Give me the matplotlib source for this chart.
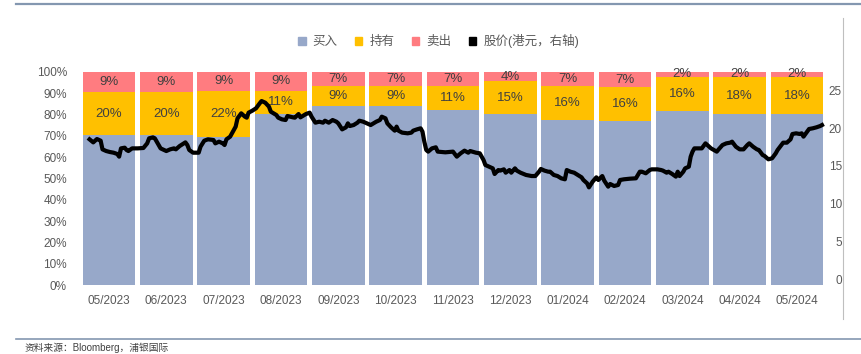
import matplotlib
matplotlib.use("Agg")
import matplotlib.pyplot as plt
from matplotlib.patches import Patch
from matplotlib.lines import Line2D
import numpy as np
import pandas as pd

plt.rcParams['font.family'] = ['Liberation Sans', 'Noto Sans CJK SC', 'DejaVu Sans']

# analyst ratings, % of analysts
months = ["05/2023", "06/2023", "07/2023", "08/2023", "09/2023", "10/2023", "11/2023",
          "12/2023", "01/2024", "02/2024", "03/2024", "04/2024", "05/2024"]
buy = [70.3, 70.3, 69.3, 80.5, 84.2, 84.2, 82.2, 80.3, 77.6, 77.1, 81.7, 80.1, 80.1]
hold = [20.3, 20.3, 21.8, 10.6, 9.2, 9.2, 11.2, 15.3, 15.8, 15.7, 16.1, 17.7, 17.7]
sell = [9.4, 9.4, 8.9, 8.9, 6.6, 6.6, 6.6, 4.4, 6.6, 7.2, 2.2, 2.2, 2.2]

# share price (HKD)
price_dates = [
    "2023-05-06", "2023-05-08", "2023-05-10", "2023-05-12", "2023-05-13", "2023-05-15",
    "2023-05-17", "2023-05-19", "2023-05-21", "2023-05-22", "2023-05-23", "2023-05-25",
    "2023-05-26", "2023-05-27", "2023-05-29", "2023-06-01", "2023-06-04", "2023-06-06",
    "2023-06-07", "2023-06-09", "2023-06-10", "2023-06-12", "2023-06-13", "2023-06-16",
    "2023-06-18", "2023-06-20", "2023-06-21", "2023-06-23", "2023-06-26", "2023-06-27",
    "2023-06-28", "2023-06-30", "2023-07-03", "2023-07-04", "2023-07-06", "2023-07-08",
    "2023-07-11", "2023-07-12", "2023-07-14", "2023-07-16", "2023-07-17", "2023-07-18",
    "2023-07-20", "2023-07-21", "2023-07-23", "2023-07-24", "2023-07-26", "2023-07-28",
    "2023-07-29", "2023-07-30", "2023-08-01", "2023-08-03", "2023-08-05", "2023-08-06",
    "2023-08-08", "2023-08-10", "2023-08-11", "2023-08-14", "2023-08-15", "2023-08-17",
    "2023-08-19", "2023-08-20", "2023-08-23", "2023-08-24", "2023-08-26", "2023-08-27",
    "2023-08-30", "2023-09-01", "2023-09-02", "2023-09-04", "2023-09-06", "2023-09-08",
    "2023-09-09", "2023-09-11", "2023-09-13", "2023-09-15", "2023-09-16", "2023-09-18",
    "2023-09-20", "2023-09-21", "2023-09-22", "2023-09-24", "2023-09-26", "2023-09-27",
    "2023-09-29", "2023-10-01", "2023-10-03", "2023-10-06", "2023-10-08", "2023-10-09",
    "2023-10-11", "2023-10-12", "2023-10-14", "2023-10-16", "2023-10-17", "2023-10-18",
    "2023-10-20", "2023-10-23", "2023-10-25", "2023-10-26", "2023-10-28", "2023-10-30",
    "2023-10-31", "2023-11-01", "2023-11-02", "2023-11-03", "2023-11-05", "2023-11-07",
    "2023-11-08", "2023-11-12", "2023-11-16", "2023-11-18", "2023-11-20", "2023-11-22",
    "2023-11-24", "2023-11-25", "2023-11-28", "2023-11-30", "2023-12-02", "2023-12-03",
    "2023-12-05", "2023-12-07", "2023-12-08", "2023-12-10", "2023-12-11", "2023-12-13",
    "2023-12-14", "2023-12-16", "2023-12-17", "2023-12-19", "2023-12-20", "2023-12-22",
    "2023-12-25", "2023-12-28", "2023-12-30", "2024-01-01", "2024-01-02", "2024-01-04",
    "2024-01-06", "2024-01-07", "2024-01-09", "2024-01-11", "2024-01-13", "2024-01-15",
    "2024-01-16", "2024-01-18", "2024-01-20", "2024-01-22", "2024-01-24", "2024-01-25",
    "2024-01-27", "2024-01-28", "2024-01-30", "2024-02-01", "2024-02-02", "2024-02-04",
    "2024-02-05", "2024-02-07", "2024-02-08", "2024-02-10", "2024-02-12", "2024-02-13",
    "2024-02-15", "2024-02-18", "2024-02-21", "2024-02-23", "2024-02-24", "2024-02-26",
    "2024-02-28", "2024-02-29", "2024-03-03", "2024-03-05", "2024-03-06", "2024-03-08",
    "2024-03-09", "2024-03-11", "2024-03-13", "2024-03-14", "2024-03-15", "2024-03-17",
    "2024-03-18", "2024-03-20", "2024-03-21", "2024-03-22", "2024-03-23", "2024-03-25",
    "2024-03-27", "2024-03-29", "2024-03-31", "2024-04-01", "2024-04-04", "2024-04-05",
    "2024-04-07", "2024-04-09", "2024-04-11", "2024-04-12", "2024-04-14", "2024-04-16",
    "2024-04-18", "2024-04-20", "2024-04-21", "2024-04-23", "2024-04-25", "2024-04-26",
    "2024-04-28", "2024-04-29", "2024-05-01", "2024-05-03", "2024-05-05", "2024-05-06",
    "2024-05-08", "2024-05-09", "2024-05-11", "2024-05-13", "2024-05-14", "2024-05-16",
    "2024-05-18", "2024-05-19", "2024-05-20", "2024-05-22", "2024-05-23", "2024-05-25",
    "2024-05-27", "2024-05-29", "2024-05-30",
]
price = [
    18.51, 18.11, 18.55, 18.33, 17.19, 16.97, 16.84, 16.75, 16.58, 16.23, 17.32, 17.41,
    17.11, 16.97, 17.32, 17.32, 17.37, 17.98, 18.64, 18.77, 18.64, 17.76, 17.32, 16.97,
    17.19, 17.32, 17.19, 17.63, 18.11, 17.76, 17.11, 16.75, 16.75, 17.54, 18.33, 18.51,
    18.42, 17.98, 18.20, 17.98, 17.76, 18.51, 18.86, 19.30, 20.18, 21.27, 21.93, 21.49,
    21.36, 22.02, 22.28, 22.59, 23.25, 23.55, 23.33, 22.81, 22.15, 21.71, 21.36, 21.14,
    21.05, 21.58, 21.40, 21.36, 21.84, 21.40, 21.84, 22.02, 21.49, 20.70, 20.83, 20.70,
    20.96, 20.70, 21.05, 20.83, 20.61, 19.82, 20.09, 20.61, 20.26, 20.39, 20.70, 20.96,
    20.83, 20.61, 20.39, 20.83, 21.05, 21.49, 21.27, 20.61, 20.09, 19.65, 20.18, 19.65,
    19.39, 19.30, 19.39, 19.65, 19.82, 19.96, 19.52, 18.20, 17.11, 16.89, 17.32, 17.46,
    16.89, 16.80, 16.89, 16.23, 16.67, 17.02, 16.75, 16.97, 16.75, 16.67, 15.79, 15.13,
    14.91, 14.69, 13.95, 14.47, 14.39, 14.56, 14.12, 14.47, 14.12, 14.69, 14.39, 14.12,
    13.82, 13.68, 13.68, 14.25, 14.61, 14.39, 14.25, 14.25, 13.82, 13.68, 13.38, 13.25,
    14.47, 14.25, 14.12, 13.82, 13.51, 13.16, 12.72, 12.19, 12.94, 13.51, 13.16, 13.68,
    13.07, 12.28, 12.63, 12.37, 12.50, 13.16, 13.25, 13.33, 13.38, 14.25, 14.25, 14.04,
    14.47, 14.56, 14.56, 14.47, 14.39, 14.12, 14.25, 13.95, 13.60, 14.25, 13.68, 14.25,
    14.69, 14.91, 16.23, 16.89, 17.32, 17.32, 17.32, 17.98, 17.54, 17.32, 16.89, 17.19,
    17.76, 17.98, 18.07, 18.20, 17.54, 17.19, 17.19, 17.76, 17.98, 17.54, 17.19, 17.11,
    16.45, 16.32, 15.88, 16.01, 16.67, 17.11, 17.76, 18.07, 18.07, 18.51, 19.21, 19.30,
    19.21, 19.30, 18.86, 19.52, 19.87, 19.96, 20.09, 20.26, 20.39,
]

C_BUY = "#97A8C9"
C_HOLD = "#FFC000"
C_SELL = "#FF7C80"
GREY = "#595959"

W, H = 862, 354
fig = plt.figure(figsize=(W / 100, H / 100), dpi=100)
ax = fig.add_axes([80.3 / W, 1 - 285 / H, 745.4 / W, 213 / H])

x = np.arange(len(months))
buy_a, hold_a, sell_a = np.array(buy), np.array(hold), np.array(sell)
ax.bar(x, buy_a, width=0.915, color=C_BUY, zorder=2)
ax.bar(x, hold_a, width=0.915, bottom=buy_a, color=C_HOLD, zorder=2)
ax.bar(x, sell_a, width=0.915, bottom=buy_a + hold_a, color=C_SELL, zorder=2)

for i in x:
    ax.text(i, buy_a[i] + hold_a[i] / 2, f"{hold_a[i]:.0f}%", ha="center", va="center",
            fontsize=9.5, color="#404040", zorder=3)
    ax.text(i, buy_a[i] + hold_a[i] + sell_a[i] / 2, f"{sell_a[i]:.0f}%", ha="center",
            va="center", fontsize=9.5, color="#404040", zorder=3)

ax.set_xlim(-0.5, len(months) - 0.5)
ax.set_ylim(0, 100)
ax.set_yticks(np.arange(0, 101, 10))
ax.set_yticklabels([f"{v}%" for v in range(0, 101, 10)])
ax.set_xticks(x)
ax.set_xticklabels(months)
ax.tick_params(axis="y", length=0, pad=9.6, labelsize=8.5, labelcolor=GREY)
ax.tick_params(axis="x", length=0, pad=7, labelsize=8.5, labelcolor=GREY)
for s in ax.spines.values():
    s.set_visible(False)

# price on the right axis
ax2 = ax.twinx()
d = pd.to_datetime(price_dates)
px = (d.year - 2023) * 12 + d.month - 5 + (d.day - 1) / d.days_in_month - 0.5
ax2.plot(px, price, color="black", lw=3.0, solid_joinstyle="round", zorder=4)
ax2.set_ylim(-0.66, 27.37)
ax2.set_yticks(range(0, 26, 5))
ax2.tick_params(axis="y", length=0, pad=11.7, labelsize=8.5, labelcolor=GREY)
for lab in ax2.get_yticklabels():
    lab.set_ha("right")
for s in ax2.spines.values():
    s.set_visible(False)

handles = [Patch(color=C_BUY), Patch(color=C_HOLD), Patch(color=C_SELL), Patch(color="black")]
labels = ["买入", "持有", "卖出", "股价(港元，右轴)"]
leg = fig.legend(handles, labels, loc="center", bbox_to_anchor=(438.5 / W, 1 - 41 / H), ncol=4,
                 frameon=False, fontsize=9, handlelength=0.6, handleheight=0.6,
                 handletextpad=0.55, columnspacing=1.4, labelcolor=GREY)

# decorative frame lines
fig.add_artist(Line2D([16 / W, 1], [1 - 3.5 / H] * 2, color="#8497B0", lw=1.6))
fig.add_artist(Line2D([16 / W, 1], [1 - 339 / H] * 2, color="#8497B0", lw=1.2))
fig.add_artist(Line2D([843 / W] * 2, [1 - 18 / H, 1 - 319 / H], color="#BFBFBF", lw=0.8))

fig.text(25 / W, 1 - 343 / H, "资料来源：Bloomberg，浦银国际", fontsize=7, color="#404040",
         ha="left", va="top")

fig.savefig("out.png", dpi=100)
